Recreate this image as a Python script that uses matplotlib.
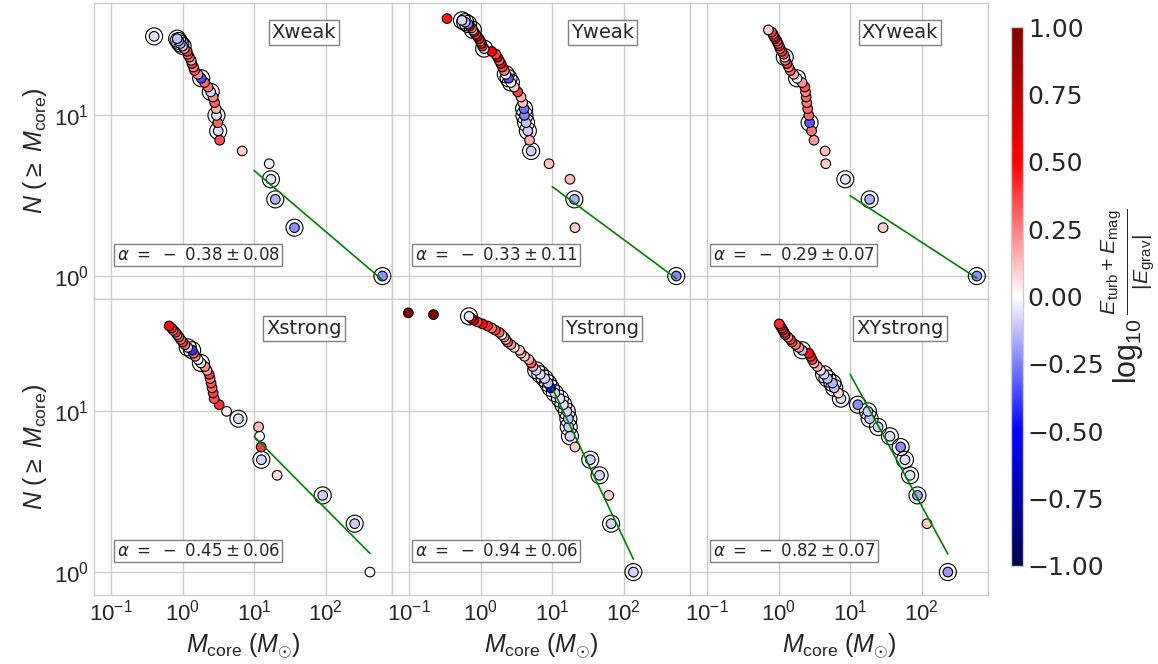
import matplotlib
matplotlib.use('Agg')
import matplotlib.pyplot as plt
import numpy as np

# Core masses (descending, so N(>=M) is the rank) and log10 energy ratios
panel_names = ["Xweak", "Yweak", "XYweak", "Xstrong", "Ystrong", "XYstrong"]

mass_xweak = [617, 36.5, 19.7, 17.1, 16.2, 6.8, 3.3, 3.14, 3.1, 2.97, 2.95, 2.8, 2.67,
              2.47, 2.27, 2.03, 1.82, 1.64, 1.47, 1.42, 1.35, 1.32, 1.25, 1.18, 1.16,
              1.06, 1.0, 0.93, 0.88, 0.84, 0.40]
ratio_xweak = [-0.22, -0.22, -0.16, -0.05, 0.01, 0.1, 0.34, -0.06, 0.3, -0.04, 0.16, 0.3, 0.23,
               -0.08, 0.26, 0.3, -0.35, 0.2, 0.34, 0.23, 0.38, 0.16, 0.3, 0.26, 0.38,
               0.23, -0.12, -0.14, -0.16, -0.12, -0.06]

mass_yweak = [540, 20.8, 20.4, 17.7, 9.04, 5.08, 4.82, 4.57, 4.32, 4.1, 4.05, 3.88, 3.67,
              3.3, 2.95, 2.65, 2.46, 2.25, 2.14, 2.02, 1.92, 1.82, 1.72, 1.63, 1.43,
              1.12, 1.06, 1.03, 0.99, 0.95, 0.90, 0.85, 0.81, 0.78, 0.75, 0.70, 0.67,
              0.61, 0.55, 0.34]
ratio_yweak = [-0.25, 0.1, -0.16, 0.13, 0.11, -0.1, 0.16, -0.1, -0.12, -0.25, -0.28, 0.13, 0.16,
               0.38, 0.1, -0.01, -0.33, -0.04, 0.23, 0.38, 0.48, 0.3, 0.6, 0.38, 0.52,
               -0.08, 0.38, 0.48, 0.3, 0.42, 0.6, 0.34, 0.48, -0.04, 0.3, 0.6, -0.25,
               -0.12, -0.08, 0.45]

mass_xyweak = [586, 28.8, 18.7, 8.55, 4.56, 4.46, 3.12, 2.89, 2.71, 2.65, 2.55, 2.48, 2.43,
               2.38, 2.33, 2.13, 1.81, 1.63, 1.46, 1.38, 1.31, 1.24, 1.22, 1.18, 1.11,
               1.05, 1.02, 0.98, 0.95, 0.90, 0.86, 0.84, 0.80, 0.72]
ratio_xyweak = [-0.22, 0.1, -0.16, -0.05, 0.1, 0.13, 0.2, 0.26, -0.33, 0.3, 0.3, 0.26, 0.3,
                0.23, 0.34, 0.2, -0.02, 0.16, 0.3, 0.23, 0.38, 0.26, -0.06, 0.34, 0.38,
                0.26, 0.42, 0.3, 0.34, 0.48, 0.38, 0.3, 0.38, 0.1]

mass_xstrong = [413, 253, 90.4, 20.9, 12.6, 12.5, 11.9, 11.5, 6.02, 4.12, 3.24, 2.76, 2.67,
                2.58, 2.5, 2.42, 2.35, 2.2, 2.05, 1.8, 1.65, 1.5, 1.42, 1.36, 1.18,
                1.08, 1.0, 0.94, 0.89, 0.84, 0.80, 0.74, 0.70, 0.65]
ratio_xstrong = [0.005, -0.1, -0.1, 0.06, -0.08, 0.38, 0.0, 0.13, -0.06, 0.03, 0.4, 0.34, 0.38,
                 0.3, 0.34, 0.26, 0.38, 0.16, 0.23, -0.02, 0.0, 0.23, 0.3, -0.4, -0.08,
                 0.3, 0.38, 0.23, 0.34, 0.2, 0.38, 0.3, 0.42, 0.48]

mass_ystrong = [136, 66.4, 61.6, 45.9, 34, 20.8, 17.7, 17.0, 16.8, 16.0, 14.3, 12.8, 10.9,
                9.55, 8.75, 7.86, 6.81, 5.98, 5.37, 5.08, 4.72, 4.1, 3.67, 3.5, 2.95,
                2.65, 2.38, 2.25, 2.14, 1.98, 1.82, 1.6, 1.43, 1.25, 1.06, 0.9, 0.8,
                0.74, 0.69, 0.22, 0.098]
ratio_ystrong = [-0.08, -0.08, 0.1, -0.08, -0.1, 0.1, -0.08, -0.1, -0.12, -0.08, -0.04, -0.06, -0.08,
                 -0.55, -0.12, -0.08, -0.06, -0.08, 0.16, 0.34, 0.16, 0.1, 0.13, 0.13, 0.05,
                 0.2, 0.3, 0.1, 0.26, 0.0, 0.3, 0.38, 0.26, 0.42, 0.48, 0.38, 0.52,
                 0.6, -0.04, 0.98, 0.98]

mass_xystrong = [231, 118, 87, 68.5, 58.2, 50.6, 35.9, 24.5, 18.7, 17.7, 12.8, 7.41, 6.88,
                 5.98, 5.66, 4.81, 4.32, 3.87, 3.48, 3.12, 2.95, 2.8, 2.65, 2.13, 1.92,
                 1.72, 1.54, 1.46, 1.35, 1.24, 1.2, 1.15, 1.1, 1.06, 1.02]
ratio_xystrong = [-0.2, 0.1, -0.18, -0.06, -0.06, -0.22, -0.06, -0.08, -0.12, -0.1, -0.22, -0.06, 0.08,
                  -0.12, -0.14, -0.12, -0.1, 0.05, 0.16, 0.13, 0.38, 0.42, 0.48, -0.12, 0.2,
                  0.26, 0.34, 0.38, 0.23, 0.42, 0.34, 0.48, 0.38, 0.52, 0.42]

masses = [mass_xweak, mass_yweak, mass_xyweak, mass_xstrong, mass_ystrong, mass_xystrong]
ratios = [ratio_xweak, ratio_yweak, ratio_xyweak, ratio_xstrong, ratio_ystrong, ratio_xystrong]

# power-law fits above 10 Msun: slope, error, N at M = 10
fit_alpha = [-0.38, -0.33, -0.29, -0.45, -0.94, -0.82]
fit_err = [0.08, 0.11, 0.07, 0.06, 0.06, 0.07]
fit_norm = [4.53, 3.6, 3.16, 6.97, 14.0, 17.0]
fit_mmin = 10.0

plt.style.use('seaborn-v0_8-whitegrid')
plt.rcParams['font.family'] = ['Liberation Sans', 'DejaVu Sans']
plt.rcParams['mathtext.fontset'] = 'custom'
plt.rcParams['mathtext.rm'] = 'Liberation Sans'
plt.rcParams['mathtext.it'] = 'Liberation Sans:italic'
plt.rcParams['mathtext.bf'] = 'Liberation Sans:bold'

fig, axes = plt.subplots(2, 3, figsize=(11.58, 6.64), dpi=100, sharex=True, sharey=True)
fig.subplots_adjust(left=0.0812, right=0.8532, top=0.9955, bottom=0.1039, wspace=0, hspace=0)

cmap = plt.get_cmap('seismic')
norm = matplotlib.colors.Normalize(vmin=-1, vmax=1)

for i, ax in enumerate(axes.flat):
    m = np.array(masses[i])
    r = np.array(ratios[i])
    n = np.arange(1, len(m) + 1)
    bound = r < 0
    ax.scatter(m[bound], n[bound], s=150, facecolor='none', edgecolor='black',
               linewidth=0.8, zorder=2)
    ax.scatter(m, n, c=r, cmap=cmap, norm=norm, s=48, edgecolor='black',
               linewidth=0.8, zorder=3)
    xf = np.array([fit_mmin, m.max()])
    ax.plot(xf, fit_norm[i] * (xf / fit_mmin) ** fit_alpha[i], color='green', lw=1.2, zorder=4)

    ax.set_xscale('log')
    ax.set_yscale('log')
    ax.text(0.705, 0.9, panel_names[i], transform=ax.transAxes, ha='center', va='center',
            fontsize=14, color='.15', family='DejaVu Sans',
            bbox=dict(boxstyle='square,pad=0.15', facecolor='white', edgecolor='0.5'))
    ax.text(0.076, 0.15, r'$\alpha\ =\ -\ %.2f \pm %.2f$' % (-fit_alpha[i], fit_err[i]),
            transform=ax.transAxes, ha='left', va='center', fontsize=12, color='.15',
            math_fontfamily='dejavusans',
            bbox=dict(boxstyle='square,pad=0.15', facecolor='white', edgecolor='0.5'))
    for sp in ax.spines.values():
        sp.set_color('#cccccc')
    ax.grid(True, color='#cccccc', lw=1)
    ax.tick_params(labelsize=16, colors='.15')
    ax.minorticks_off()

ax0 = axes[0, 0]
ax0.set_xlim(0.058, 840)
ax0.set_ylim(0.72, 50)
ax0.set_xticks([0.1, 1, 10, 100])
ax0.set_yticks([1, 10])
ax0.minorticks_off()

for ax in axes[:, 0]:
    ax.set_ylabel(r'$N\ (\geq\ M_{\rm core})$', fontsize=18, color='.15')
for ax in axes[1, :]:
    ax.set_xlabel(r'$M_{\rm core}\ (M_{\odot})$', fontsize=18, color='.15')

cax = fig.add_axes([0.873, 0.1476, 0.0104, 0.8117])
cb = fig.colorbar(matplotlib.cm.ScalarMappable(norm=norm, cmap=cmap), cax=cax,
                  ticks=np.arange(-1, 1.01, 0.25),
                  format=matplotlib.ticker.FuncFormatter(
                      lambda v, p: ('%.2f' % v).replace('-', '\u2212')))
cb.outline.set_edgecolor('#cccccc')
cb.ax.tick_params(labelsize=18, colors='.15', length=0)
for t in cb.ax.get_yticklabels():
    t.set_fontfamily('DejaVu Sans')
cb.set_label(r'$\log_{10}\frac{E_{\rm turb}+E_{\rm mag}}{|E_{\rm grav}|}$', fontsize=22,
             color='.15', labelpad=-4)

plt.savefig('out.png', dpi=100, facecolor='white')
plt.close()
